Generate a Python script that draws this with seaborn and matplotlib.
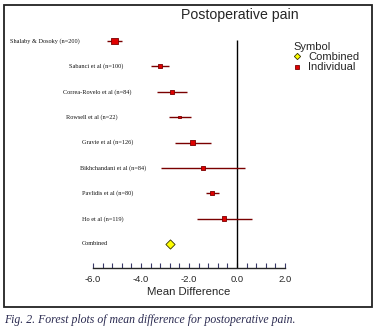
import numpy as np
import pandas as pd
import matplotlib
matplotlib.use("Agg")
import matplotlib.pyplot as plt
import seaborn as sns
from matplotlib.lines import Line2D
from matplotlib.patches import Rectangle
from matplotlib.ticker import FixedLocator

# data
studies = ["Shalaby & Dosoky (n=200)", "Sabanci et al (n=100)", "Correa-Rovelo et al (n=84)",
           "Rowsell et al (n=22)", "Gravie et al (n=126)", "Bikhchandani et al (n=84)",
           "Pavlidis et al (n=80)", "Ho et al (n=119)"]
mean_diff = [-5.1, -3.2, -2.7, -2.4, -1.86, -1.42, -1.04, -0.54]
ci_low = [-5.4, -3.6, -3.33, -2.83, -2.6, -3.17, -1.3, -1.67]
ci_high = [-4.8, -2.85, -2.1, -1.9, -1.08, 0.33, -0.75, 0.63]
weight = [31, 10, 10, 4, 12, 9, 12, 12]
combined = -2.8
xticks = [-6, -4, -2, 0, 2]

df = pd.DataFrame({"study": studies, "md": mean_diff, "lo": ci_low, "hi": ci_high,
                   "weight": weight, "row": np.arange(len(studies))})

sns.set_style("white")
plt.rcParams["font.family"] = ["Liberation Sans", "DejaVu Sans"]

W, H = 378, 333
fig = plt.figure(figsize=(W / 100, H / 100), dpi=100)

# plot area: left/right edges at the frame, bottom at the x axis line
ax = fig.add_axes([4 / W, 1 - 268 / H, 368 / W, 263 / H])
px = 24.0  # pixels per unit
ax.set_xlim(-6 - 89 / px, 2 + 87 / px)
step = 25.375
ax.set_ylim((268 - 41) / step, (5 - 41) / step)
ax.patch.set_alpha(0)

dark_red = "#7a0000"
ax.hlines(df["row"], df["lo"], df["hi"], color=dark_red, lw=1.0, zorder=2)
sns.scatterplot(data=df, x="md", y="row", size="weight", sizes=(4 * 0.8, 31 * 0.8),
                marker="s", color="#e00000", edgecolor=dark_red, linewidth=0.6,
                legend=False, ax=ax, zorder=3)
ax.scatter([combined], [len(studies)], marker="D", s=22, color="#ffff00",
           edgecolor="#333300", linewidth=0.6, zorder=3)
ax.vlines(0, -0.04, (268 - 41) / step, color="black", lw=1.0, zorder=1)

# study labels
label_left = [10, 69, 63, 66, 82, 80, 82, 82, 82]
for i, name in enumerate(studies + ["Combined"]):
    xl = ax.get_xlim()[0] + (label_left[i] - 4) / px
    ax.text(xl, i, name, ha="left", va="center", fontsize=4.5,
            family="Liberation Serif", color="#111111")

# axis styling
for s in ["left", "right", "top"]:
    ax.spines[s].set_visible(False)
ax.spines["bottom"].set_bounds(-6, 2)
ax.spines["bottom"].set_linewidth(1.0)
ax.set_yticks([])
ax.xaxis.set_major_locator(FixedLocator(xticks))
ax.xaxis.set_minor_locator(FixedLocator(np.arange(-6, 2.01, 0.4)))
ax.set_xticklabels([f"{t:.1f}" for t in xticks], fontsize=6.8)
ax.tick_params(axis="x", which="both", direction="in", length=3.6, width=0.8,
               color="#3a3a6a", pad=5, bottom=True)
ax.set_xlabel("")
ax.set_ylabel("")

fig.text(189 / W, 1 - 292 / H, "Mean Difference", ha="center", va="center", fontsize=8.2)
fig.text(240 / W, 1 - 15 / H, "Postoperative pain", ha="center", va="center", fontsize=10.2)

handles = [Line2D([], [], marker="D", ls="", markersize=3.2, markerfacecolor="#ffff00",
                  markeredgecolor="#333300", markeredgewidth=0.6),
           Line2D([], [], marker="s", ls="", markersize=3.4, markerfacecolor="#e00000",
                  markeredgecolor=dark_red, markeredgewidth=0.6)]
leg = fig.legend(handles, ["Combined", "Individual"], title="Symbol", loc="upper left",
                 bbox_to_anchor=(293 / W, 1 - 42 / H), frameon=False, fontsize=8,
                 title_fontsize=8, handletextpad=0.55, handlelength=0.8, labelspacing=0.02,
                 borderpad=0, borderaxespad=0)
leg._legend_box.align = "left"

# outer frame and caption
fig.patches.append(Rectangle((4 / W, 1 - 307 / H), 368 / W, 302 / H, transform=fig.transFigure,
                             fill=False, edgecolor="#222222", lw=1.3))
fig.text(4 / W, 1 - 320 / H, "Fig. 2. Forest plots of mean difference for postoperative pain.",
         ha="left", va="center", fontsize=8.5, style="italic", family="Liberation Serif",
         color="#2a2a50")

fig.savefig("out.png", dpi=100)
